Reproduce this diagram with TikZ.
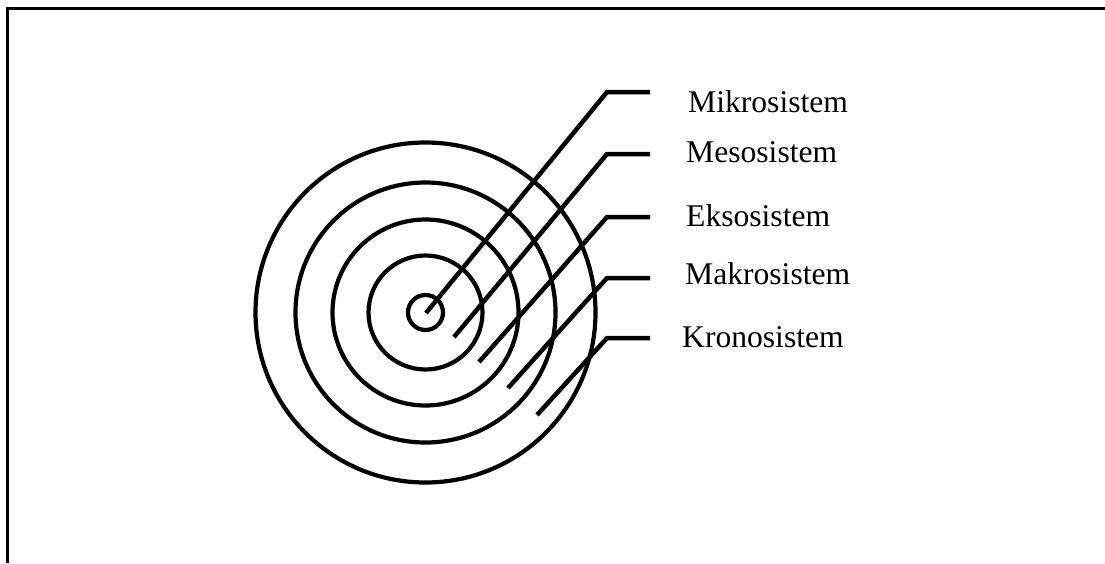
\documentclass[tikz,border=0pt]{standalone}
\usepackage{fontspec}
\setmainfont{Liberation Serif}
\begin{document}
\begin{tikzpicture}[x=1pt,y=-1pt,
  ring/.style={line width=4.2pt},
  leader/.style={line width=4.5pt},
  lbl/.style={anchor=base west, inner sep=0pt, font=\fontsize{31.6}{36}\selectfont}]
\useasboundingbox (0,0) rectangle (1105,563);
\draw[line width=3pt] (7,563) -- (7,8) -- (1105,8);
\coordinate (c) at (425.5,312.5);
\foreach \r in {170,130,93,57,17.5} \draw[ring] (c) circle (\r);
% leaders
\coordinate (e1) at (426,313);
\coordinate (e2) at (454,337);
\coordinate (e3) at (479,362);
\coordinate (e4) at (508,388);
\coordinate (e5) at (537,415);
\coordinate (k1) at (607,92);
\coordinate (k2) at (607,154);
\coordinate (k3) at (607,217);
\coordinate (k4) at (607,278);
\coordinate (k5) at (607,338);
\coordinate (h1) at (650,92);
\coordinate (h2) at (650,154);
\coordinate (h3) at (650,217);
\coordinate (h4) at (650,278);
\coordinate (h5) at (650,338);
\foreach \i in {1,...,5} \draw[leader] (e\i) -- (k\i) -- (h\i);
\node[lbl] (t1) at (688,112) {Mikrosistem};
\node[lbl] (t2) at (686,162) {Mesosistem};
\node[lbl] (t3) at (686,226) {Eksosistem};
\node[lbl] (t4) at (685,284) {Makrosistem};
\node[lbl] (t5) at (682,347) {Kronosistem};
\end{tikzpicture}
\end{document}
